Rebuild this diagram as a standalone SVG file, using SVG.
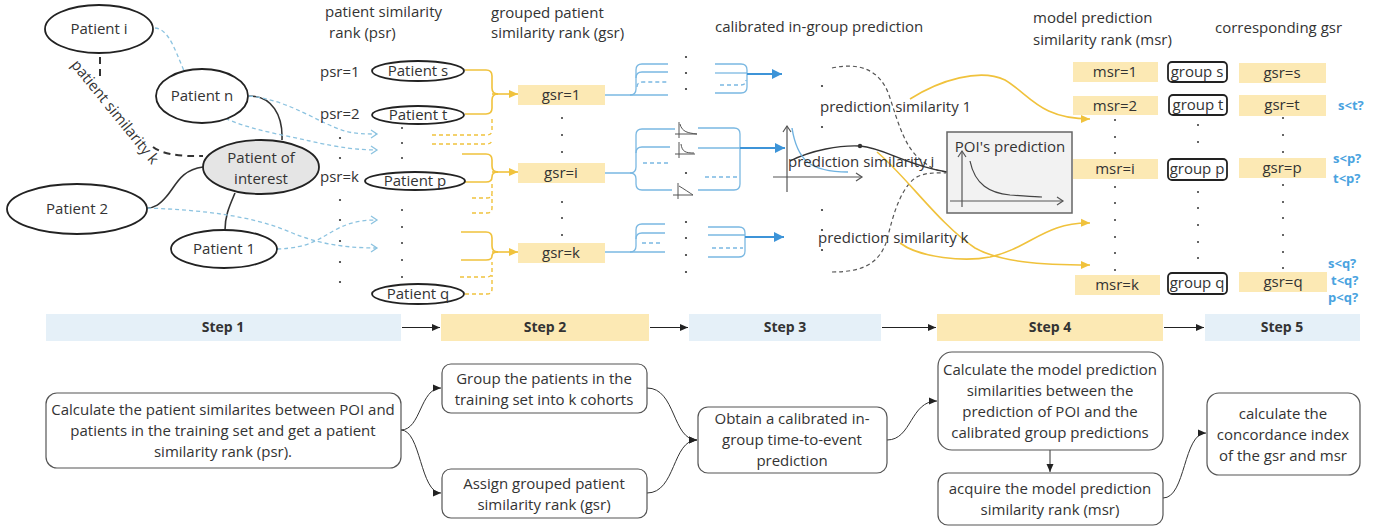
<svg xmlns="http://www.w3.org/2000/svg" width="1392" height="527" viewBox="0 0 1392 527">
<style>
text{font-family:"Open Sans","Noto Sans",sans-serif;fill:#333;font-size:15px}
.c{text-anchor:middle}
.b{font-weight:bold;font-size:14px}
.q{font-weight:bold;font-size:13px;fill:#4aa3df}
.ell{fill:#fff;stroke:#222;stroke-width:1.8}
.poi{fill:#e5e5e5;stroke:#222;stroke-width:1.8}
.yb{fill:#fce9b4}
.grp{fill:#fff;stroke:#222;stroke-width:1.8}
.box{fill:#fff;stroke:#555;stroke-width:1.2}
.sb{fill:#e5f0f8}
.sy{fill:#fce9b4}
.dot{fill:#333}
.yl{fill:none;stroke:#f0c23c;stroke-width:1.6}
.yd{fill:none;stroke:#f0c23c;stroke-width:1.4;stroke-dasharray:4 3}
.bl{fill:none;stroke:#7ab8e2;stroke-width:1.3}
.bd{fill:none;stroke:#7ab8e2;stroke-width:1.3;stroke-dasharray:4 3}
.ba{fill:none;stroke:#3d94d8;stroke-width:1.8}
.bdash{fill:none;stroke:#8cc3e0;stroke-width:1.3;stroke-dasharray:4 3}
.gd{fill:none;stroke:#555;stroke-width:1.2;stroke-dasharray:4 3}
.kl{fill:none;stroke:#333;stroke-width:1.6}
.kd{fill:none;stroke:#333;stroke-width:2;stroke-dasharray:7 5}
.ax{fill:none;stroke:#555;stroke-width:1.2}
.con{fill:none;stroke:#333;stroke-width:1}
.sa{fill:none;stroke:#222;stroke-width:1.2}
</style>
<defs>
<marker id="ay" markerWidth="10" markerHeight="10" refX="9" refY="5" orient="auto" markerUnits="userSpaceOnUse"><path d="M0,1 L9,5 L0,9 z" fill="#f0c23c"/></marker>
<marker id="ab" markerWidth="12" markerHeight="12" refX="10" refY="6" orient="auto" markerUnits="userSpaceOnUse"><path d="M0,1 L10,6 L0,11 z" fill="#3d94d8"/></marker>
<marker id="ak" markerWidth="9" markerHeight="9" refX="8" refY="4.5" orient="auto" markerUnits="userSpaceOnUse"><path d="M0,1 L8,4.5 L0,8 z" fill="#222"/></marker>
<marker id="ao" markerWidth="10" markerHeight="10" refX="8" refY="5" orient="auto" markerUnits="userSpaceOnUse"><path d="M2,1 L8,5 L2,9" fill="none" stroke="#8cc3e0" stroke-width="1.3"/></marker>
<marker id="ag" markerWidth="10" markerHeight="10" refX="8" refY="5" orient="auto" markerUnits="userSpaceOnUse"><path d="M2,1 L8,5 L2,9" fill="none" stroke="#555" stroke-width="1.2"/></marker>
</defs>
<rect width="1392" height="527" fill="#fff"/>

<!-- headers -->
<g id="headers">
<text x="325" y="17">patient similarity</text>
<text x="329" y="38">rank (psr)</text>
<text x="491" y="18">grouped patient</text>
<text x="491" y="38">similarity rank (gsr)</text>
<text x="715" y="32">calibrated in-group prediction</text>
<text x="1033" y="23">model prediction</text>
<text x="1033" y="45">similarity rank (msr)</text>
<text x="1215" y="33">corresponding gsr</text>
</g>

<!-- connectors -->
<g id="connectors">
<!-- patient graph -->
<path class="kl" d="M249,96 C272,96 283,115 282,140"/>
<path class="kl" d="M203,167 C180,170 176,186 166,197 C160,204 155,208 147,208"/>
<path class="kl" d="M235,193 C230,205 225,215 225,230"/>
<path class="kd" d="M100,57 L100,76"/>
<path class="kd" d="M153,147 Q166,157 203,156"/>
<!-- blue dashed to psr -->
<path class="bdash" marker-end="url(#ao)" d="M249,96 C290,100 320,124 345,131 C355,134 365,134 377,134"/>
<path class="bdash" marker-end="url(#ao)" d="M155,28 C175,30 178,70 200,100 C220,125 270,132 310,141 C340,148 360,150 377,150"/>
<path class="bdash" marker-end="url(#ao)" d="M147,208 C200,210 250,215 290,232 C320,245 350,248 377,248"/>
<path class="bdash" marker-end="url(#ao)" d="M277,249 C310,248 320,238 335,230 C350,222 362,220 377,220"/>
<!-- yellow brackets -->
<path class="yl" d="M465,70 H486 Q492,70 492,76 V88 Q492,94 498,94"/>
<path class="yl" d="M465,114 H486 Q492,114 492,108 V100 Q492,94 498,94"/>
<path class="yl" marker-end="url(#ay)" d="M492,94 H518"/>
<path class="yd" d="M432,135 H487 Q492,135 492,130 V116"/>
<path class="yd" d="M432,144 H487 Q492,144 492,139"/>
<path class="yl" d="M462,154 H486 Q492,154 492,160 V166 Q492,172 498,172"/>
<path class="yl" d="M465,182 H486 Q492,182 492,177 Q492,172 498,172"/>
<path class="yl" marker-end="url(#ay)" d="M492,172 H518"/>
<path class="yd" d="M472,198 H487 Q492,198 492,193 V184"/>
<path class="yd" d="M472,213 H487 Q492,213 492,208 V195"/>
<path class="yl" d="M461,232 H486 Q492,232 492,238 V246 Q492,252 498,252"/>
<path class="yl" d="M461,260 H486 Q492,260 492,256 Q492,252 498,252"/>
<path class="yl" marker-end="url(#ay)" d="M492,252 H518"/>
<path class="yd" d="M460,277 H487 Q492,277 492,272 V262"/>
<path class="yd" d="M465,294 H487 Q492,294 492,289 V275"/>
<!-- blue group 1 -->
<path class="bl" d="M605,95 H668"/>
<path class="bl" d="M630,95 Q636,95 636,89 V70 Q636,64 642,64 H668"/>
<path class="bl" d="M636,78 Q636,72 642,72 H668"/>
<path class="bd" d="M637,87 Q637,82 643,82 H668"/>
<path class="bl" d="M715,64 H741 Q747,64 747,70 V74"/>
<path class="bl" d="M715,73 H747"/>
<path class="bl" d="M715,93 H741 Q747,93 747,87 V74"/>
<path class="bd" d="M720,85 H741 Q746,85 746,80"/>
<path class="ba" marker-end="url(#ab)" d="M747,74 H782"/>
<!-- blue group i -->
<path class="bl" d="M605,173 H630 Q636,173 636,167 V135 Q636,129 642,129 H675"/>
<path class="bl" d="M630,173 Q636,173 636,179 V184 Q636,190 642,190 H672"/>
<path class="bl" d="M636,153 Q636,147 642,147 H670"/>
<path class="bd" d="M643,163 H668"/>
<path class="bl" d="M698,128 H734 Q740,128 740,134 V148"/>
<path class="bl" d="M698,148 H740"/>
<path class="bl" d="M698,190 H734 Q740,190 740,184 V148"/>
<path class="bd" d="M705,177 H738"/>
<path class="ba" marker-end="url(#ab)" d="M740,148 H785"/>
<!-- blue group k -->
<path class="bl" d="M605,252 H665"/>
<path class="bl" d="M630,252 Q636,252 636,246 V230 Q636,224 642,224 H665"/>
<path class="bl" d="M636,239 Q636,233 642,233 H665"/>
<path class="bd" d="M642,243 H663"/>
<path class="bl" d="M708,227 H739 Q745,227 745,233 V237"/>
<path class="bl" d="M708,235 H745"/>
<path class="bl" d="M708,257 H739 Q745,257 745,251 V237"/>
<path class="bd" d="M712,248 H743"/>
<path class="ba" marker-end="url(#ab)" d="M745,237 H784"/>
<!-- gray dashed similarity arcs -->
<path class="gd" d="M832,68 C860,62 880,70 889,95 C899,125 905,150 925,163 C931,168 937,171 946,172"/>
<path class="gd" d="M832,272 C865,272 880,262 887,240 C893,215 900,190 915,178 C925,172 935,173 946,173"/>
<!-- black similarity curve -->
<path class="kl" style="stroke-width:1.3" d="M790,161 C812,150 840,145 860,146 C885,148 905,165 947,172"/>
<circle cx="860" cy="146" r="2.2" fill="#333"/>
<!-- yellow curves to msr -->
<path class="yl" marker-end="url(#ay)" d="M910,99 C940,80 980,68 1005,80 C1030,95 1040,119 1090,119"/>
<path class="yl" marker-end="url(#ay)" d="M877,152 C905,175 940,225 975,248 C1000,262 1040,265 1090,265"/>
<path class="yl" marker-end="url(#ay)" d="M900,243 C920,258 965,262 990,257 C1030,248 1045,222 1090,223"/>
<!-- step bar arrows -->
<path class="sa" marker-end="url(#ak)" d="M402,327.5 H440"/>
<path class="sa" marker-end="url(#ak)" d="M650,327.5 H688"/>
<path class="sa" marker-end="url(#ak)" d="M882,327.5 H936"/>
<path class="sa" marker-end="url(#ak)" d="M1164,327.5 H1204"/>
<!-- bottom flow -->
<path class="con" marker-end="url(#ak)" d="M401,430 C421,430 420,388 441,388"/>
<path class="con" marker-end="url(#ak)" d="M401,430 C421,430 420,493 441,493"/>
<path class="con" marker-end="url(#ak)" d="M647,388 C676,388 672,440 697,440"/>
<path class="con" marker-end="url(#ak)" d="M647,493 C676,493 672,440 697,440"/>
<path class="con" marker-end="url(#ak)" d="M887,440 C912,440 910,401 937,401"/>
<path class="con" marker-end="url(#ak)" d="M1050,450 V472"/>
<path class="con" marker-end="url(#ak)" d="M1163,498 C1186,498 1183,433 1206,433"/>
</g>

<!-- patient graph nodes -->
<g id="patient-i"><ellipse class="ell" cx="99" cy="29" rx="54" ry="24"/><text class="c" x="99" y="34">Patient i</text></g>
<g id="patient-n"><ellipse class="ell" cx="202" cy="96" rx="46" ry="27"/><text class="c" x="202" y="101">Patient n</text></g>
<g id="patient-of-interest"><ellipse class="poi" cx="261" cy="167" rx="58" ry="27"/><text class="c" x="261" y="163">Patient of</text><text class="c" x="261" y="184">interest</text></g>
<g id="patient-2"><ellipse class="ell" cx="77" cy="209" rx="70" ry="25"/><text class="c" x="77" y="214">Patient 2</text></g>
<g id="patient-1"><ellipse class="ell" cx="224" cy="249" rx="53" ry="19"/><text class="c" x="224" y="254">Patient 1</text></g>
<g id="label-sim-k"><text class="c" transform="translate(115,112) rotate(51)" x="0" y="5">patient similarity k</text></g>

<!-- psr column -->
<g id="psr-labels">
<text x="320" y="77">psr=1</text>
<text x="320" y="119">psr=2</text>
<text x="320" y="182">psr=k</text>
<circle class="dot" cx="340" cy="138" r="1.1"/><circle class="dot" cx="340" cy="158" r="1.1"/>
<circle class="dot" cx="340" cy="200" r="1.1"/><circle class="dot" cx="340" cy="220" r="1.1"/><circle class="dot" cx="340" cy="241" r="1.1"/><circle class="dot" cx="340" cy="262" r="1.1"/><circle class="dot" cx="340" cy="282" r="1.1"/>
</g>
<g id="patient-s"><ellipse class="ell" cx="418" cy="71" rx="46" ry="10"/><text class="c" x="418" y="76">Patient s</text></g>
<g id="patient-t"><ellipse class="ell" cx="418" cy="115" rx="46" ry="9"/><text class="c" x="418" y="120">Patient t</text></g>
<g id="patient-p"><ellipse class="ell" cx="415" cy="181" rx="50" ry="9"/><text class="c" x="415" y="186">Patient p</text></g>
<g id="patient-q"><ellipse class="ell" cx="418" cy="294" rx="46" ry="10"/><text class="c" x="418" y="299">Patient q</text></g>
<g id="patient-dots">
<circle class="dot" cx="402" cy="128" r="1"/><circle class="dot" cx="402" cy="143" r="1"/><circle class="dot" cx="402" cy="158" r="1"/>
<circle class="dot" cx="402" cy="210" r="1"/><circle class="dot" cx="402" cy="227" r="1"/><circle class="dot" cx="402" cy="243" r="1"/><circle class="dot" cx="402" cy="260" r="1"/><circle class="dot" cx="402" cy="277" r="1"/>
</g>

<!-- gsr column -->
<g id="gsr-1"><rect class="yb" x="518" y="85" width="87" height="20"/><text class="c" x="561" y="100">gsr=1</text></g>
<g id="gsr-i"><rect class="yb" x="518" y="163" width="87" height="20"/><text class="c" x="561" y="178">gsr=i</text></g>
<g id="gsr-k"><rect class="yb" x="518" y="243" width="87" height="20"/><text class="c" x="561" y="258">gsr=k</text></g>
<g id="gsr-dots">
<circle class="dot" cx="562" cy="118" r="1"/><circle class="dot" cx="562" cy="135" r="1"/><circle class="dot" cx="562" cy="152" r="1"/>
<circle class="dot" cx="562" cy="202" r="1"/><circle class="dot" cx="562" cy="218" r="1"/><circle class="dot" cx="562" cy="235" r="1"/>
</g>

<!-- step 3 internals -->
<g id="group-dots">
<circle class="dot" cx="686" cy="57" r="1.1"/><circle class="dot" cx="686" cy="73" r="1.1"/><circle class="dot" cx="686" cy="89" r="1.1"/>
<circle class="dot" cx="686" cy="173" r="1.1"/>
<circle class="dot" cx="686" cy="222" r="1.1"/><circle class="dot" cx="686" cy="238" r="1.1"/><circle class="dot" cx="686" cy="255" r="1.1"/><circle class="dot" cx="686" cy="272" r="1.1"/>
</g>
<g id="mini-plots" fill="none" stroke="#555" stroke-width="1">
<path d="M679,122 V138 M675,134 H697 M680,124 C682,132 688,133 697,134"/>
<path d="M679,142 V158 M675,154 H695 M681,144 C682,152 686,153 694,153"/>
<path d="M678,183 V199 M673,195 H693 M679,186 C684,189 690,193 693,195"/>
</g>
<g id="calibrated-plot">
<path class="ax" marker-end="url(#ag)" d="M787,192 V126"/>
<path class="ax" marker-end="url(#ag)" d="M773,177 H862"/>
<path fill="none" stroke="#6fb2e0" stroke-width="1.4" d="M792,128 C797,160 810,172 848,172"/>
</g>
<g id="prediction-similarities">
<circle class="dot" cx="822" cy="86" r="1.1"/><circle class="dot" cx="822" cy="127" r="1.1"/>
<circle class="dot" cx="822" cy="210" r="1.1"/><circle class="dot" cx="822" cy="230" r="1.1"/><circle class="dot" cx="822" cy="250" r="1.1"/>
<text x="820" y="112">prediction similarity 1</text>
<text x="788" y="167">prediction similarity i</text>
<text x="818" y="243">prediction similarity k</text>
</g>
<g id="poi-prediction">
<rect x="947" y="132" width="125" height="81" fill="#f2f2f2" stroke="#666" stroke-width="1.5"/>
<text class="c" x="1010" y="152">POI's prediction</text>
<path class="ax" marker-end="url(#ag)" d="M962,207 V151"/>
<path class="ax" marker-end="url(#ag)" d="M950,201 H1063"/>
<path fill="none" stroke="#444" stroke-width="1.2" d="M970,161 C975,185 990,193 1010,195 C1025,196 1035,197 1042,197"/>
</g>

<!-- msr column -->
<g id="msr-1"><rect class="yb" x="1073" y="62" width="85" height="20"/><text class="c" x="1115" y="77">msr=1</text></g>
<g id="msr-2"><rect class="yb" x="1073" y="96" width="85" height="19"/><text class="c" x="1115" y="111">msr=2</text></g>
<g id="msr-i"><rect class="yb" x="1073" y="159" width="85" height="20"/><text class="c" x="1115" y="174">msr=i</text></g>
<g id="msr-k"><rect class="yb" x="1075" y="275" width="85" height="20"/><text class="c" x="1117" y="290">msr=k</text></g>
<g id="msr-dots">
<circle class="dot" cx="1115" cy="120" r="1"/><circle class="dot" cx="1115" cy="137" r="1"/><circle class="dot" cx="1115" cy="153" r="1"/>
<circle class="dot" cx="1115" cy="187" r="1"/><circle class="dot" cx="1115" cy="203" r="1"/><circle class="dot" cx="1115" cy="220" r="1"/><circle class="dot" cx="1115" cy="237" r="1"/><circle class="dot" cx="1115" cy="253" r="1"/><circle class="dot" cx="1115" cy="270" r="1"/>
</g>

<!-- group column -->
<g id="group-s"><rect class="grp" x="1168" y="62" width="59" height="20" rx="4"/><text class="c" x="1197" y="77">group s</text></g>
<g id="group-t"><rect class="grp" x="1169" y="95" width="58" height="20" rx="4"/><text class="c" x="1198" y="110">group t</text></g>
<g id="group-p"><rect class="grp" x="1168" y="159" width="59" height="21" rx="4"/><text class="c" x="1197" y="174">group p</text></g>
<g id="group-q"><rect class="grp" x="1168" y="273" width="59" height="21" rx="4"/><text class="c" x="1197" y="288">group q</text></g>
<g id="group-dots-col">
<circle class="dot" cx="1198" cy="125" r="1"/><circle class="dot" cx="1198" cy="142" r="1"/>
<circle class="dot" cx="1198" cy="192" r="1"/><circle class="dot" cx="1198" cy="208" r="1"/><circle class="dot" cx="1198" cy="225" r="1"/><circle class="dot" cx="1198" cy="242" r="1"/><circle class="dot" cx="1198" cy="258" r="1"/>
</g>

<!-- corresponding gsr column -->
<g id="gsr-s"><rect class="yb" x="1239" y="63" width="87" height="20"/><text class="c" x="1282" y="78">gsr=s</text></g>
<g id="gsr-t"><rect class="yb" x="1239" y="95" width="87" height="21"/><text class="c" x="1282" y="110">gsr=t</text></g>
<g id="gsr-p"><rect class="yb" x="1239" y="158" width="87" height="20"/><text class="c" x="1282" y="173">gsr=p</text></g>
<g id="gsr-q"><rect class="yb" x="1239" y="272" width="88" height="20"/><text class="c" x="1283" y="287">gsr=q</text></g>
<g id="gsr-col-dots">
<circle class="dot" cx="1283" cy="118" r="1"/><circle class="dot" cx="1283" cy="135" r="1"/><circle class="dot" cx="1283" cy="152" r="1"/>
<circle class="dot" cx="1283" cy="185" r="1"/><circle class="dot" cx="1283" cy="202" r="1"/><circle class="dot" cx="1283" cy="218" r="1"/><circle class="dot" cx="1283" cy="235" r="1"/><circle class="dot" cx="1283" cy="252" r="1"/><circle class="dot" cx="1283" cy="268" r="1"/>
</g>
<g id="comparisons">
<text class="q" x="1338" y="110">s&lt;t?</text>
<text class="q" x="1333" y="163">s&lt;p?</text>
<text class="q" x="1333" y="183">t&lt;p?</text>
<text class="q" x="1328" y="268">s&lt;q?</text>
<text class="q" x="1331" y="285">t&lt;q?</text>
<text class="q" x="1328" y="302">p&lt;q?</text>
</g>

<!-- steps bar -->
<g id="step-1"><rect class="sb" x="46" y="314" width="355" height="27"/><text class="c b" x="223" y="332">Step 1</text></g>
<g id="step-2"><rect class="sy" x="441" y="314" width="208" height="27"/><text class="c b" x="545" y="332">Step 2</text></g>
<g id="step-3"><rect class="sb" x="689" y="314" width="192" height="27"/><text class="c b" x="785" y="332">Step 3</text></g>
<g id="step-4"><rect class="sy" x="937" y="314" width="226" height="27"/><text class="c b" x="1050" y="332">Step 4</text></g>
<g id="step-5"><rect class="sb" x="1205" y="314" width="155" height="27"/><text class="c b" x="1282" y="332">Step 5</text></g>

<!-- bottom process boxes -->
<g id="box-calc-psr"><rect class="box" x="46" y="393" width="355" height="75" rx="11"/>
<text class="c" x="223" y="415">Calculate the patient similarites between POI and</text>
<text class="c" x="223" y="436">patients in the training set and get a patient</text>
<text class="c" x="223" y="457">similarity rank (psr).</text></g>
<g id="box-group"><rect class="box" x="442" y="364" width="205" height="49" rx="9"/>
<text class="c" x="544" y="384">Group the patients in the</text>
<text class="c" x="544" y="405">training set into k cohorts</text></g>
<g id="box-assign"><rect class="box" x="442" y="469" width="205" height="49" rx="9"/>
<text class="c" x="544" y="489">Assign grouped patient</text>
<text class="c" x="544" y="510">similarity rank (gsr)</text></g>
<g id="box-obtain"><rect class="box" x="698" y="407" width="189" height="66" rx="10"/>
<text class="c" x="792" y="424">Obtain a calibrated in-</text>
<text class="c" x="792" y="445">group time-to-event</text>
<text class="c" x="792" y="466">prediction</text></g>
<g id="box-calc-msim"><rect class="box" x="938" y="352" width="225" height="98" rx="14"/>
<text class="c" x="1050" y="375">Calculate the model prediction</text>
<text class="c" x="1050" y="396">similarities between the</text>
<text class="c" x="1050" y="417">prediction of POI and the</text>
<text class="c" x="1050" y="438">calibrated group predictions</text></g>
<g id="box-acquire"><rect class="box" x="938" y="473" width="225" height="52" rx="10"/>
<text class="c" x="1050" y="494">acquire the model prediction</text>
<text class="c" x="1050" y="515">similarity rank (msr)</text></g>
<g id="box-concordance"><rect class="box" x="1207" y="393" width="153" height="82" rx="12"/>
<text class="c" x="1283" y="419">calculate the</text>
<text class="c" x="1283" y="440">concordance index</text>
<text class="c" x="1283" y="461">of the gsr and msr</text></g>
</svg>
